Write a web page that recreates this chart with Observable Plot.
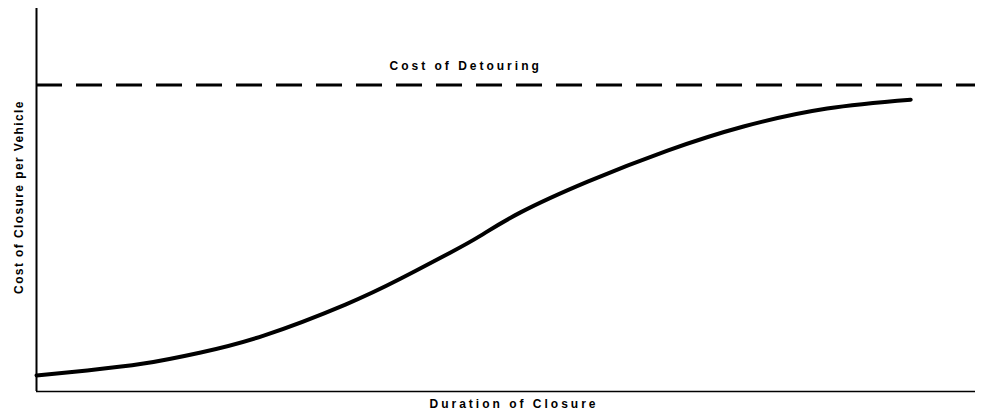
<!DOCTYPE html>
<html>
<head>
<meta charset="utf-8">
<script src="https://cdn.jsdelivr.net/npm/d3@7"></script>
<script src="https://cdn.jsdelivr.net/npm/@observablehq/plot@0.6"></script>
<style>
  html, body { margin: 0; padding: 0; background: #fff; }
  #chart svg { display: block; }
</style>
</head>
<body>
<div id="chart"></div>
<script>
// Duration of closure (relative units) and cost of closure per vehicle (relative units)
const duration = [0, 5.4, 11.4, 17.5, 24.2, 32.9, 38.8, 44.1, 47.3, 51.5, 58.7, 67.2, 75.3, 84.2, 93.1];
const cost     = [4.2, 5.5, 7.3, 10.2, 14.6, 22.7, 29.5, 36.3, 40.7, 46.7, 54.8, 62.9, 69.2, 73.9, 76.2];
const detourCost = 80;
const xLabel = "Duration of Closure";
const yLabel = "Cost of Closure per Vehicle";
const detourLabel = "Cost of Detouring";
const detourLabelX = 45.7;

const curve = duration.map((d, i) => ({duration: d, cost: cost[i]}));
const font = "'Liberation Sans', Arial, sans-serif";

const chart = Plot.plot({
  width: 981,
  height: 411,
  marginLeft: 36,
  marginRight: 6,
  marginTop: 8,
  marginBottom: 20,
  style: {fontFamily: font, background: "#fff"},
  x: {domain: [0, 100], axis: null},
  y: {domain: [0, 100], axis: null},
  marks: [
    Plot.ruleY([detourCost], {stroke: "#000", strokeWidth: 3, strokeDasharray: "26,14"}),
    Plot.ruleX([0], {stroke: "#000", strokeWidth: 2}),
    Plot.ruleY([0], {stroke: "#000", strokeWidth: 1.5}),
    Plot.line(curve, {x: "duration", y: "cost", stroke: "#000", strokeWidth: 4, curve: "natural"}),
    Plot.text([detourLabel], {x: detourLabelX, y: detourCost, text: d => d, dy: -19, fontSize: 12, fontWeight: "bold", fill: "#000", textAnchor: "middle"}),
    Plot.text([xLabel], {frameAnchor: "bottom", dx: 8, dy: 16, text: d => d, fontSize: 12, fontWeight: "bold", fill: "#000", textAnchor: "middle"}),
    Plot.text([yLabel], {frameAnchor: "left", dx: -17, dy: -3, rotate: -90, text: d => d, fontSize: 12, fontWeight: "bold", fill: "#000", textAnchor: "middle"})
  ]
});
const spacing = {[detourLabel]: "3px", [xLabel]: "3px", [yLabel]: "1.4px"};
chart.querySelectorAll("text").forEach(t => {
  const s = spacing[t.textContent.trim()];
  if (s) { t.setAttribute("letter-spacing", s); t.style.letterSpacing = s; }
});
document.getElementById("chart").appendChild(chart);
</script>
</body>
</html>
